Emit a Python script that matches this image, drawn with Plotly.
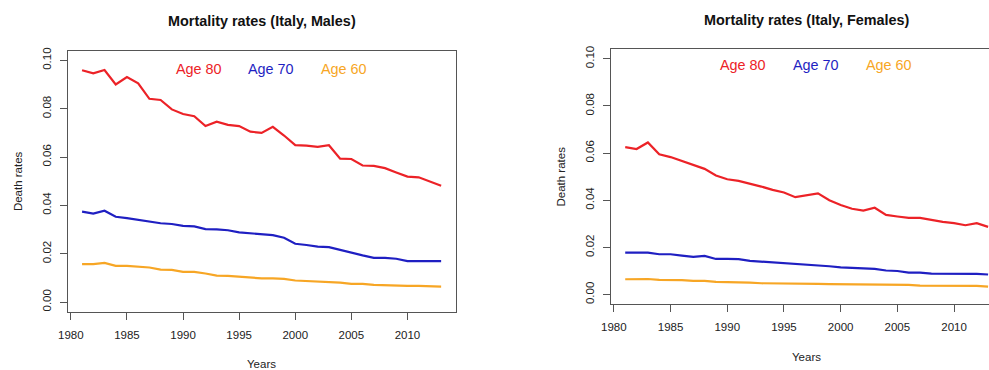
import plotly.graph_objects as go

# Death rates by calendar year for Italy, ages 80 / 70 / 60
years = list(range(1981, 2014))

males_80 = [0.0959, 0.0946, 0.0960, 0.0900, 0.0931, 0.0905, 0.0841, 0.0836, 0.0797, 0.0778,
            0.0769, 0.0728, 0.0746, 0.0733, 0.0728, 0.0705, 0.0700, 0.0725, 0.0689, 0.0649,
            0.0647, 0.0642, 0.0649, 0.0593, 0.0592, 0.0565, 0.0563, 0.0554, 0.0536, 0.0519,
            0.0516, 0.0500, 0.0481]
males_70 = [0.0374, 0.0366, 0.0378, 0.0353, 0.0347, 0.0340, 0.0331, 0.0326, 0.0323, 0.0315,
            0.0313, 0.0302, 0.0301, 0.0297, 0.0288, 0.0285, 0.0280, 0.0277, 0.0266, 0.0241,
            0.0236, 0.0229, 0.0227, 0.0215, 0.0205, 0.0193, 0.0183, 0.0183, 0.0179, 0.0169,
            0.0169, 0.0169, 0.0169]
males_60 = [0.0157, 0.0157, 0.0162, 0.0150, 0.0150, 0.0146, 0.0143, 0.0134, 0.0133, 0.0125,
            0.0125, 0.0118, 0.0109, 0.0108, 0.0104, 0.0101, 0.0098, 0.0098, 0.0096, 0.0089,
            0.0087, 0.0087, 0.0083, 0.0080, 0.0075, 0.0075, 0.0071, 0.0069, 0.0069, 0.0067,
            0.0067, 0.0066, 0.0064]

females_80 = [0.0625, 0.0617, 0.0645, 0.0595, 0.0583, 0.0566, 0.0550, 0.0533, 0.0505, 0.0489,
              0.0482, 0.0471, 0.0458, 0.0444, 0.0433, 0.0413, 0.0421, 0.0429, 0.0400, 0.0380,
              0.0364, 0.0356, 0.0368, 0.0338, 0.0331, 0.0325, 0.0325, 0.0315, 0.0308, 0.0303,
              0.0294, 0.0303, 0.0287]
females_70 = [0.0178, 0.0178, 0.0178, 0.0171, 0.0171, 0.0165, 0.0160, 0.0164, 0.0151, 0.0151,
              0.0150, 0.0143, 0.0140, 0.0136, 0.0133, 0.0130, 0.0126, 0.0123, 0.0120, 0.0115,
              0.0112, 0.0109, 0.0109, 0.0102, 0.0100, 0.0093, 0.0093, 0.0089, 0.0089, 0.0089,
              0.0089, 0.0088, 0.0085]
females_60 = [0.0065, 0.0065, 0.0066, 0.0062, 0.0062, 0.0061, 0.0058, 0.0058, 0.0054, 0.0054,
              0.0052, 0.0051, 0.0048, 0.0048, 0.0048, 0.0047, 0.0045, 0.0045, 0.0044, 0.0044,
              0.0044, 0.0044, 0.0042, 0.0041, 0.0041, 0.0041, 0.0038, 0.0038, 0.0038, 0.0038,
              0.0038, 0.0037, 0.0034]

series_labels = ["Age 80", "Age 70", "Age 60"]
series_colors = ["#ec2227", "#1f1fc2", "#f7a625"]
panel_titles = ["Mortality rates (Italy, Males)", "Mortality rates (Italy, Females)"]
x_ticks = [1980, 1985, 1990, 1995, 2000, 2005, 2010]
y_ticks = [0.00, 0.02, 0.04, 0.06, 0.08, 0.10]

W, H = 989, 370
FONT = "Liberation Sans, Arial, sans-serif"
AXIS_COL = "#555555"
TEXT_COL = "#222222"


def px_x(p):
    return p / W


def px_y(p):
    return 1 - p / H


fig = go.Figure()

panels = [
    dict(data=[males_80, males_70, males_60], xa="x", ya="y",
         box=(67.7, 455.5, 50.7, 311.7), xrange=[1979.72, 2014.28],
         legend_x=[198.8, 270.5, 343.7], legend_y=69.3),
    dict(data=[females_80, females_70, females_60], xa="x2", ya="y2",
         box=(610.7, 989.0, 49.3, 304.0), xrange=[1979.72, 2013.08],
         legend_x=[742.7, 815.7, 889.2], legend_y=65.0),
]

for i, p in enumerate(panels):
    for vals, name, col in zip(p["data"], series_labels, series_colors):
        fig.add_trace(go.Scatter(x=years, y=vals, mode="lines", name=name,
                                 line=dict(color=col, width=2.2),
                                 xaxis=p["xa"], yaxis=p["ya"], showlegend=False))

    left, right, top, bottom = p["box"]
    suffix = "" if i == 0 else "2"
    xdom = [px_x(left), min(1.0, px_x(right))]
    ydom = [px_y(bottom), px_y(top)]

    axis_common = dict(showline=True, linecolor=AXIS_COL, linewidth=1,
                       ticks="outside", ticklen=7, tickcolor=AXIS_COL, tickwidth=1,
                       showgrid=False, zeroline=False, automargin=False,
                       tickfont=dict(family=FONT, size=11.5, color=TEXT_COL))
    fig.layout["xaxis" + suffix] = dict(
        axis_common, domain=xdom, range=p["xrange"], tickvals=x_ticks,
        mirror=True, ticklabelstandoff=5,
        anchor="y" + suffix)
    fig.layout["yaxis" + suffix] = dict(
        axis_common, domain=ydom, range=[-0.004, 0.104], tickvals=y_ticks,
        tickformat=".2f", tickangle=-90, ticklabelstandoff=4,
        mirror=(i == 0), anchor="x" + suffix)

    cx = (left + (right if i == 0 else 1002.0)) / 2
    # panel title
    fig.add_annotation(text="<b>" + panel_titles[i] + "</b>", xref="paper", yref="paper",
                       x=px_x(cx), y=px_y(top - 29.5), showarrow=False,
                       xanchor="center", yanchor="middle",
                       font=dict(family=FONT, size=14.4, color="#111111"))
    # axis titles
    fig.add_annotation(text="Years", xref="paper", yref="paper",
                       x=px_x(cx), y=px_y(bottom + 52.6), showarrow=False,
                       xanchor="center", yanchor="middle",
                       font=dict(family=FONT, size=11.5, color=TEXT_COL))
    fig.add_annotation(text="Death rates", xref="paper", yref="paper",
                       x=px_x(left - 49.8), y=px_y((top + bottom) / 2), showarrow=False,
                       xanchor="center", yanchor="middle", textangle=-90,
                       font=dict(family=FONT, size=11.5, color=TEXT_COL))
    # in-plot key, text only
    for lx, name, col in zip(p["legend_x"], series_labels, series_colors):
        fig.add_annotation(text=name, xref="paper", yref="paper",
                           x=px_x(lx), y=px_y(p["legend_y"]), showarrow=False,
                           xanchor="center", yanchor="middle",
                           font=dict(family=FONT, size=14.4, color=col))

fig.update_layout(width=W, height=H, margin=dict(l=0, r=0, t=0, b=0),
                  paper_bgcolor="white", plot_bgcolor="white", showlegend=False)

fig.write_html("out.html")
